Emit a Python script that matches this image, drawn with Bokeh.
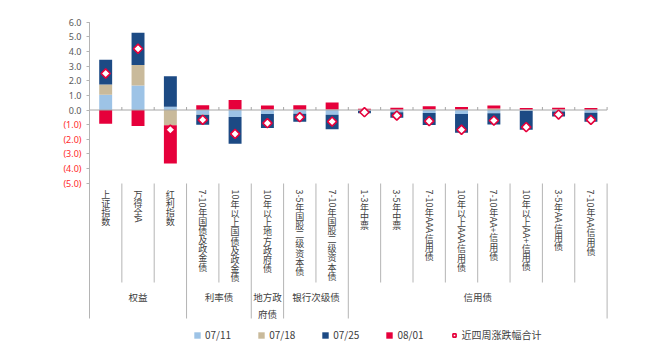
import math
import re
import numpy as np
from bokeh.plotting import figure
from bokeh.models import Range1d, FixedTicker, Legend, LegendItem, LinearAxis
from bokeh.core.properties import value
from bokeh.embed import file_html
from bokeh.resources import INLINE

# ---------------- data ----------------
categories = ["上证指数", "万得全A", "红利指数",
              "7-10年国债及政金债", "10年以上国债及政金债",
              "10年以上地方政府债",
              "3-5年国股二级资本债", "7-10年国股二级资本债",
              "1-3年中票", "3-5年中票", "7-10年AAA信用债", "10年以上AAA信用债",
              "7-10年AA+信用债", "10年以上AA+信用债", "3-5年AA信用债", "7-10年AA信用债"]
group_names = ["权益", "利率债", "地方政府债", "银行次级债", "信用债"]
group_sizes = [3, 2, 1, 2, 8]
series_names = ["07/11", "07/18", "07/25", "08/01"]
w0711 = [1.04, 1.67, 0.22, -0.31, -0.48, -0.27, -0.26, -0.32, -0.05, -0.16, -0.20, -0.27, -0.22, -0.06, -0.10, -0.18]
w0718 = [0.70, 1.41, -1.04, -0.02, 0.03, 0.03, 0.02, 0.03, 0.02, 0.02, 0.05, 0.03, 0.10, 0.02, 0.03, 0.02]
w0725 = [1.69, 2.19, 2.09, -0.68, -1.82, -0.96, -0.55, -0.99, -0.17, -0.37, -0.82, -1.29, -0.77, -1.29, -0.34, -0.62]
w0801 = [-0.94, -1.10, -2.62, 0.32, 0.65, 0.28, 0.30, 0.49, 0.07, 0.14, 0.20, 0.17, 0.20, 0.12, 0.12, 0.12]
total_name = "近四周涨跌幅合计"
total = [2.49, 4.18, -1.35, -0.67, -1.63, -0.90, -0.49, -0.79, -0.15, -0.38, -0.76, -1.35, -0.72, -1.17, -0.31, -0.67]
pos_ticks = [0, 1, 2, 3, 4, 5, 6]
neg_ticks = [-5, -4, -3, -2, -1]

# ---------------- layout constants (pixels) ----------------
W, H = 672, 352
LEFT = 89
PX_ZERO = 109.5        # pixel row of value 0
S = 14.65              # pixels per unit
CW = 32.35             # pixels per category
FS = 9                 # category label font size
ADV = 9.15             # advance per CJK char
LBL_TOP = 189
SEP_TOP = 183
SEP_INNER_BOT = 282
SEP_GROUP_BOT = 318
GROUP_Y = 296
GROUP_LINE = 17

def py(px):
    return (PX_ZERO - px) / S

colors = ["#9DC3E6", "#C9BA9B", "#1C4A84", "#E6003B"]
RED = "#E6003B"
GRAY_LINE = "#B4B4B4"
TXT = "#404040"
CJK = "Noto Sans CJK SC"

n = len(categories)
xs = np.arange(n) + 0.5

p = figure(width=W, height=H, output_backend="svg", toolbar_location=None,
           x_range=Range1d(-LEFT / CW, (W - LEFT) / CW),
           y_range=Range1d(py(H), py(0)),
           x_axis_type=None, y_axis_type=None, min_border_left=0, min_border_right=0,
           min_border_top=0, min_border_bottom=0)
p.grid.visible = False
p.outline_line_color = None
p.background_fill_color = "white"
p.border_fill_color = "white"

def make_axis(ticks, labels, color):
    ax = LinearAxis(ticker=FixedTicker(ticks=ticks), fixed_location=0)
    ax.axis_line_color = None
    ax.major_tick_line_color = GRAY_LINE
    ax.major_tick_in = 0
    ax.major_tick_out = 3
    ax.minor_tick_line_color = None
    ax.major_label_standoff = 5
    ax.major_label_text_font = "Noto Sans"
    ax.major_label_text_font_size = "9px"
    ax.major_label_text_color = color
    ax.major_label_overrides = dict(zip(ticks, labels))
    p.add_layout(ax, "left")

make_axis(pos_ticks, ["%.1f" % t for t in pos_ticks], "#595959")
make_axis(neg_ticks, ["(%.1f)" % abs(t) for t in neg_ticks], "#FF2A2A")

# ---------------- stacked bars ----------------
series = [w0711, w0718, w0725, w0801]
pos_base = np.zeros(n)
neg_base = np.zeros(n)
renderers = []
for vals, col in zip(series, colors):
    v = np.array(vals)
    bottom = np.where(v >= 0, pos_base, neg_base)
    top = bottom + v
    pos_base = np.where(v >= 0, top, pos_base)
    neg_base = np.where(v < 0, top, neg_base)
    r = p.vbar(x=xs, bottom=bottom, top=top, width=0.4, fill_color=col, line_color=None)
    renderers.append(r)

# zero line and its ticks
p.segment(x0=[0], y0=[0], x1=[n], y1=[0], line_color="#A6A6A6", line_width=1)
bx = list(range(1, n + 1))
p.segment(x0=bx, y0=[0] * len(bx), x1=bx, y1=[py(PX_ZERO - 3)] * len(bx),
          line_color="#A6A6A6", line_width=1)

# totals
rt = p.scatter(x=xs, y=total, marker="square", angle=math.pi / 4, size=6.5,
               fill_color="white", line_color=RED, line_width=1.6)

# vertical axis line
p.segment(x0=[0], y0=[6], x1=[0], y1=[py(SEP_GROUP_BOT)], line_color=GRAY_LINE, line_width=1)

# separators
gb = list(np.cumsum([0] + group_sizes))
inner = [b for b in range(1, n) if b not in gb]
outer = [b for b in gb if b > 0]
p.segment(x0=inner, y0=[py(SEP_TOP)] * len(inner), x1=inner, y1=[py(SEP_INNER_BOT)] * len(inner),
          line_color=GRAY_LINE, line_width=1)
p.segment(x0=outer, y0=[py(SEP_TOP)] * len(outer), x1=outer, y1=[py(SEP_GROUP_BOT)] * len(outer),
          line_color=GRAY_LINE, line_width=1)

# category labels (vertical, stacked)
ASCII_W = {"-": 0.33, "A": 0.6, "+": 0.56}
up_x, up_y, up_t = [], [], []
rot_x, rot_y, rot_t = [], [], []
for i, lab in enumerate(categories):
    cur = 0.0
    for tok in re.findall(r"[\x00-\x7f]+|.", lab):
        if ord(tok[0]) < 128:
            wpx = sum(ASCII_W.get(c, 0.53) for c in tok) * FS
            rot_x.append(xs[i]); rot_y.append(py(LBL_TOP + cur)); rot_t.append(tok)
            cur += wpx + 0.8
        else:
            up_x.append(xs[i]); up_y.append(py(LBL_TOP + cur + ADV / 2)); up_t.append(tok)
            cur += ADV
p.text(x=up_x, y=up_y, text=up_t, text_align="center", text_baseline="middle",
       text_font=value(CJK), text_font_size="%dpx" % FS, text_color=TXT)
p.text(x=rot_x, y=rot_y, text=rot_t, angle=-math.pi / 2, text_align="left", text_baseline="middle",
       text_font=value(CJK), text_font_size="%dpx" % FS, text_color=TXT)

# group labels
GFS = 9.5
g_x, g_y, g_t = [], [], []
for k, (name, size) in enumerate(zip(group_names, group_sizes)):
    cx = gb[k] + size / 2
    per_line = max(1, int(size * CW / (GFS * 1.05)))
    lines = [name[j:j + per_line] for j in range(0, len(name), per_line)]
    for li, line in enumerate(lines):
        g_x.append(cx); g_y.append(py(GROUP_Y + li * GROUP_LINE)); g_t.append(line)
p.text(x=g_x, y=g_y, text=g_t, text_align="center", text_baseline="middle",
       text_font=value(CJK), text_font_size="9.5px", text_color=TXT)

# legend
items = [LegendItem(label=nm, renderers=[r]) for nm, r in zip(series_names, renderers)]
items.append(LegendItem(label=total_name, renderers=[rt]))
legend = Legend(items=items, orientation="horizontal", location=(193, 10),
                glyph_width=8, glyph_height=8, label_standoff=4, spacing=26,
                padding=0, margin=0, label_height=12,
                label_text_font=CJK, label_text_font_size="10px", label_text_color=TXT,
                border_line_color=None, background_fill_alpha=0)
p.add_layout(legend)

open("out.html", "w").write(file_html(p, INLINE))
